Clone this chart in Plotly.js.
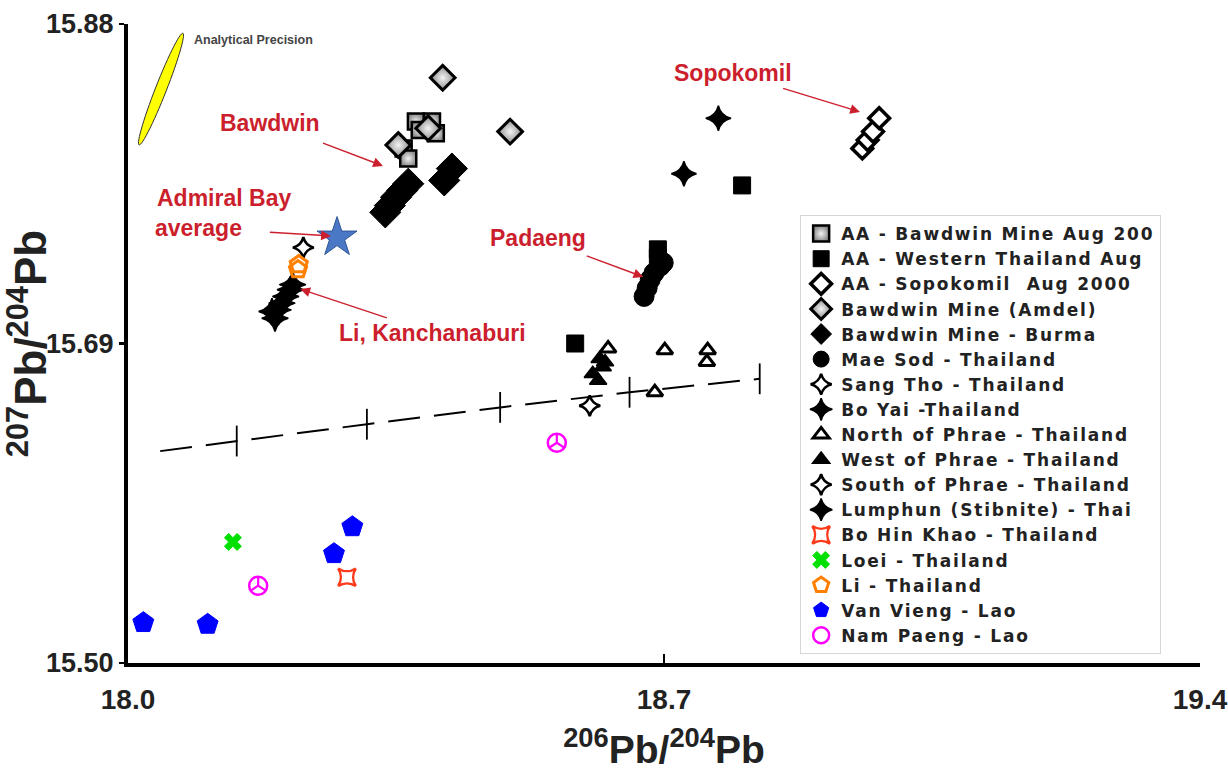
<!DOCTYPE html>
<html>
<head>
<meta charset="utf-8">
<script src="https://cdn.plot.ly/plotly-3.0.1.min.js"></script>
<style>
html,body{margin:0;padding:0;background:#fff;}
#chart{width:1228px;height:771px;}
.legendtext{letter-spacing:1.8px;}
</style>
</head>
<body>
<div id="chart"></div>
<script>
// ---------- axis ticks ----------
const xTickVals = [18.0, 18.7, 19.4];
const xTickText = ['18.0', '18.7', '19.4'];
const yTickVals = [15.50, 15.69, 15.88];
const yTickText = ['15.50', '15.69', '15.88'];

// ---------- series (206Pb/204Pb, 207Pb/204Pb) ----------
const aaBawdwinX = [18.360, 18.366, 18.376, 18.381, 18.397, 18.402];
const aaBawdwinY = [15.806, 15.800, 15.822, 15.817, 15.822, 15.815];

const aaWesternX = [18.692, 18.692, 18.802, 18.584];
const aaWesternY = [15.746, 15.741, 15.784, 15.690];

const aaSopokomilX = [18.959, 18.966, 18.973, 18.981];
const aaSopokomilY = [15.806, 15.811, 15.816, 15.824];

const amdelX = [18.411, 18.499, 18.392, 18.353];
const amdelY = [15.848, 15.816, 15.818, 15.808];

const burmaX = [18.336, 18.342, 18.350, 18.358, 18.366, 18.413, 18.423];
const burmaY = [15.768, 15.772, 15.777, 15.781, 15.785, 15.787, 15.794];

const maeSodX = [18.674, 18.678, 18.682, 18.687, 18.695, 18.699];
const maeSodY = [15.718, 15.723, 15.728, 15.732, 15.736, 15.738];

const sangThoX = [18.229];
const sangThoY = [15.747];

const boYaiX = [18.726, 18.771];
const boYaiY = [15.791, 15.824];

const northPhraeX = [18.701, 18.757, 18.756, 18.688, 18.627];
const northPhraeY = [15.686, 15.686, 15.679, 15.661, 15.687];

const westPhraeX = [18.607, 18.614, 18.620, 18.616, 18.623];
const westPhraeY = [15.672, 15.668, 15.676, 15.681, 15.679];

const southPhraeX = [18.603];
const southPhraeY = [15.653];

const lumphunX = [18.192, 18.196, 18.201, 18.206, 18.212, 18.188, 18.215];
const lumphunY = [15.705, 15.710, 15.714, 15.718, 15.722, 15.709, 15.725];

const boHinKhaoX = [18.286];
const boHinKhaoY = [15.551];

const loeiX = [18.137];
const loeiY = [15.572];

const liX = [18.222, 18.223];
const liY = [15.734, 15.737];

const vanViengX = [18.020, 18.104, 18.269, 18.293];
const vanViengY = [15.524, 15.523, 15.565, 15.581];

const namPaengX = [18.170, 18.560];
const namPaengY = [15.546, 15.631];

const admiralX = [18.273];
const admiralY = [15.753];

// growth curve with time ticks
const curveX = [18.042, 18.142, 18.312, 18.486, 18.655, 18.825];
const curveY = [15.626, 15.632, 15.642, 15.652, 15.661, 15.669];
const curveTickX = [18.142, 18.312, 18.486, 18.655, 18.825];
const curveTickY = [15.632, 15.642, 15.652, 15.661, 15.669];

// ---------- callouts (arrow head in data units) ----------
const calloutText = ['Bawdwin', 'Sopokomil', 'average', 'Padaeng', 'Li, Kanchanaburi'];
const arrowHeadX = [18.333, 18.956, 18.265, 18.673, 18.225];
const arrowHeadY = [15.7956, 15.8277, 15.754, 15.7296, 15.7224];
const admiralLabel = 'Admiral Bay';
const admiralLabelX = 18.0353, admiralLabelY = 15.7765;

// ---------- drawing ----------
const RED = '#cc1f2e';
const BLK = '#000';
function sc(name, x, y, symbol, size, color, lineColor, lineWidth, extra) {
  const t = {
    type: 'scatter', mode: 'markers', name: name, x: x, y: y,
    marker: { symbol: symbol, size: size, color: color, line: { color: lineColor, width: lineWidth } }
  };
  return Object.assign(t, extra || {});
}

const traces = [
  // growth curve (not in legend)
  { type: 'scatter', mode: 'lines', x: curveX, y: curveY, showlegend: false, hoverinfo: 'skip',
    line: { color: BLK, width: 2, dash: '32px,14px' } },
  { type: 'scatter', mode: 'markers', x: curveTickX, y: curveTickY, showlegend: false, hoverinfo: 'skip',
    marker: { symbol: 'line-ns-open', size: 22, color: BLK, line: { color: BLK, width: 1.8 } } },

  sc('AA - Bawdwin Mine Aug 200', aaBawdwinX, aaBawdwinY, 'square', 15, '#7a7a7a', BLK, 2.5,
     { marker: { symbol: 'square', size: 16, color: '#8a8a8a', gradient: { type: 'radial', color: '#f2f2f2' }, line: { color: BLK, width: 2.5 } } }),
  sc('AA - Western Thailand Aug', aaWesternX, aaWesternY, 'square', 17, BLK, BLK, 1),
  sc('AA - Sopokomil  Aug 2000', aaSopokomilX, aaSopokomilY, 'diamond', 16, '#fff', BLK, 3.5),
  sc('Bawdwin Mine (Amdel)', amdelX, amdelY, 'diamond', 19, '#8a8a8a', BLK, 3,
     { marker: { symbol: 'diamond', size: 19, color: '#8a8a8a', gradient: { type: 'radial', color: '#f4f4f4' }, line: { color: BLK, width: 3 } } }),
  sc('Bawdwin Mine - Burma', burmaX, burmaY, 'diamond', 24, BLK, BLK, 1),
  sc('Mae Sod - Thailand', maeSodX, maeSodY, 'circle', 20, BLK, BLK, 1),
  sc('Sang Tho - Thailand', sangThoX, sangThoY, 'star-diamond-open', 15, BLK, BLK, 2.5),
  sc('Bo Yai -Thailand', boYaiX, boYaiY, 'star-diamond', 18, BLK, BLK, 1.5),
  sc('North of Phrae - Thailand', northPhraeX, northPhraeY, 'triangle-up-open', 14, BLK, BLK, 3),
  sc('West of Phrae - Thailand', westPhraeX, westPhraeY, 'triangle-up', 15, BLK, BLK, 1.5),
  sc('South of Phrae - Thailand', southPhraeX, southPhraeY, 'star-diamond-open', 15, BLK, BLK, 2.5),
  sc('Lumphun (Stibnite) - Thai', lumphunX, lumphunY, 'star-diamond', 19, BLK, BLK, 1.5),
  sc('Bo Hin Khao - Thailand', boHinKhaoX, boHinKhaoY, 'star-square-open', 16, '#ff3a1a', '#ff3a1a', 2.5),
  sc('Loei - Thailand', loeiX, loeiY, 'x', 15, '#00e000', '#00e000', 1),
  sc('Li - Thailand', liX, liY, 'pentagon-open', 18, '#ff8000', '#ff8000', 3),
  sc('Van Vieng - Lao', vanViengX, vanViengY, 'pentagon', 22, '#0000ff', '#0000ff', 1),
  sc('Nam Paeng - Lao', namPaengX, namPaengY, 'circle-open', 18, '#ff00ff', '#ff00ff', 2.5, { legendgroup: 'np' }),
  sc('Nam Paeng - Lao', namPaengX, namPaengY, 'y-up-open', 12, '#ff00ff', '#ff00ff', 2.2, { legendgroup: 'np', showlegend: false }),

  // Admiral Bay average (not in legend)
  { type: 'scatter', mode: 'markers', x: admiralX, y: admiralY, showlegend: false,
    marker: { symbol: 'star', size: 30, color: '#4a78c4', line: { color: '#2f5597', width: 1 } } }
];

// analytical precision ellipse (pixel geometry converted through axis scale)
const plotW = 1228 - 128 - 28, plotH = 771 - 24 - 108;
const xr = [18.0, 19.4], yr = [15.50, 15.88];
const pxX = (xr[1] - xr[0]) / plotW, pxY = (yr[1] - yr[0]) / plotH;
const ellCx = 18.0431, ellCy = 15.8413;
const ellA = 60, ellB = 5.5, ellAng = Math.atan2(112, 44);
let ellPath = '';
for (let i = 0; i <= 60; i++) {
  const t = i / 60 * 2 * Math.PI;
  const u = ellA * Math.cos(t), v = ellB * Math.sin(t);
  const dx = u * Math.cos(ellAng) - v * Math.sin(ellAng);
  const dy = u * Math.sin(ellAng) + v * Math.cos(ellAng);
  ellPath += (i === 0 ? 'M' : 'L') + (ellCx + dx * pxX).toFixed(5) + ',' + (ellCy + dy * pxY).toFixed(5);
}
ellPath += 'Z';

// text offsets (px) from arrow head to label centre, and tail gap
const labelDX = [-113, -127, -132, -105, 132];
const labelDY = [-43, -39, -8, -39, 44];
const tailGap = [16, 3, 26, 10, 2];
const calloutFont = { family: 'Liberation Sans, Arial, sans-serif', size: 23, color: RED, weight: 700 };
const annotations = [];
for (let i = 0; i < calloutText.length; i++) {
  annotations.push({
    x: arrowHeadX[i], y: arrowHeadY[i], xref: 'x', yref: 'y', text: calloutText[i],
    showarrow: true, ax: labelDX[i], ay: labelDY[i], align: 'left',
    arrowhead: 2, arrowsize: 1.4, arrowwidth: 1.4, arrowcolor: RED, startstandoff: tailGap[i],
    font: calloutFont
  });
}
annotations.push({
  x: admiralLabelX, y: admiralLabelY, xref: 'x', yref: 'y', text: admiralLabel, showarrow: false,
  xanchor: 'left', font: calloutFont
});
annotations.push({
  x: 18.0836, y: 15.8705, xref: 'x', yref: 'y', text: 'Analytical Precision', showarrow: false,
  xanchor: 'left', font: { family: 'Liberation Sans, Arial, sans-serif', size: 12.5, color: '#444', weight: 700 }
});

const layout = {
  width: 1228, height: 771,
  margin: { l: 128, r: 28, t: 24, b: 108 },
  paper_bgcolor: '#fff', plot_bgcolor: '#fff',
  showlegend: true,
  xaxis: {
    range: xr, tickmode: 'array', tickvals: xTickVals, ticktext: xTickText,
    showgrid: false, zeroline: false, showline: true, linecolor: BLK, linewidth: 4,
    ticks: 'inside', ticklen: 9, tickwidth: 2.5, tickcolor: BLK, ticklabelstandoff: 8,
    ticklabeloverflow: 'allow',
    tickfont: { family: 'Liberation Sans Narrow, Arial Narrow, Liberation Sans, sans-serif', size: 28, color: '#222', weight: 700 },
    automargin: false,
    title: { text: '<sup>206</sup>Pb/<sup>204</sup>Pb',
      font: { family: 'Liberation Sans Narrow, Arial Narrow, Liberation Sans, sans-serif', size: 39, color: '#222', weight: 700 } }
  },
  yaxis: {
    range: yr, tickmode: 'array', tickvals: yTickVals, ticktext: yTickText,
    showgrid: false, zeroline: false, showline: true, linecolor: BLK, linewidth: 4,
    ticks: 'outside', ticklen: 5, tickwidth: 2.5, tickcolor: BLK,
    tickfont: { family: 'Liberation Sans, Arial, sans-serif', size: 27, color: '#222', weight: 700 },
    automargin: false,
    title: { text: '<sup>207</sup>Pb/<sup>204</sup>Pb',
      font: { family: 'Liberation Sans, Arial, sans-serif', size: 44, color: '#222', weight: 700 } }
  },
  legend: {
    x: 0.627, y: 0.701, xanchor: 'left', yanchor: 'top',
    bgcolor: '#fff', bordercolor: '#d6d6d6', borderwidth: 1,
    tracegroupgap: 0, itemwidth: 30,
    font: { family: 'DejaVu Sans, sans-serif', size: 17, color: '#222', weight: 700 }
  },
  shapes: [{ type: 'path', xref: 'x', yref: 'y', path: ellPath, fillcolor: '#ffff00', line: { color: '#333', width: 1 } }],
  annotations: annotations
};

Plotly.newPlot('chart', traces, layout, { displayModeBar: false, staticPlot: true });
</script>
</body>
</html>
